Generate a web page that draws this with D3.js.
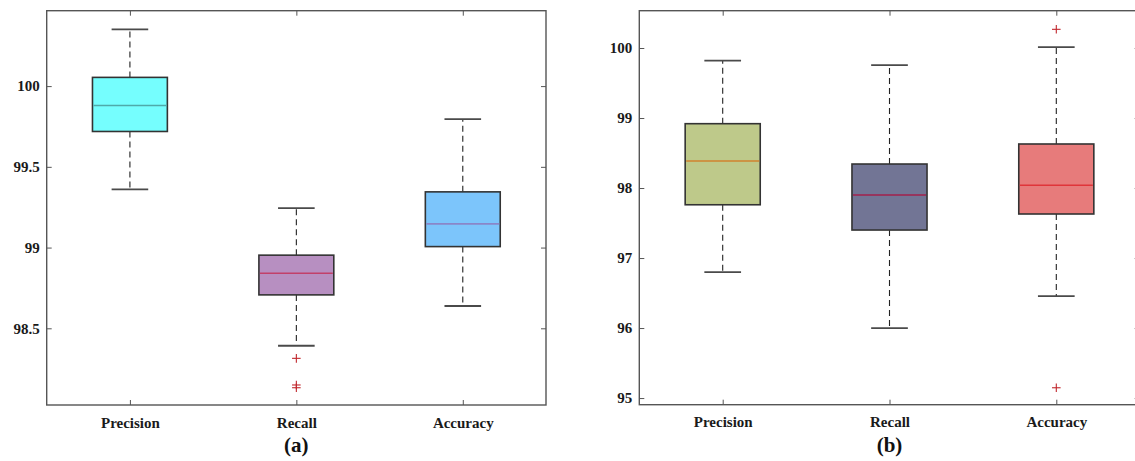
<!DOCTYPE html>
<html>
<head>
<meta charset="utf-8">
<script src="https://cdn.jsdelivr.net/npm/d3@7"></script>
<style>
  html, body { margin: 0; padding: 0; background: #fff; }
  svg { display: block; }
  .tick text { font-family: "Liberation Serif", "Times New Roman", serif; font-weight: bold; fill: #1a1a1a; }
</style>
</head>
<body>
<svg id="chart" width="1135" height="461"></svg>
<script>
// Metric names shared by both panels
const categories = ["Precision", "Recall", "Accuracy"];

// Panel (a): box statistics per metric
const aWhiskerLow  = [99.361, 98.392, 98.638];
const aQ1          = [99.719, 98.707, 99.006];
const aMedian      = [99.880, 98.841, 99.147];
const aQ3          = [100.054, 98.953, 99.345];
const aWhiskerHigh = [100.351, 99.244, 99.795];
const aOutliers    = [[], [98.314, 98.149, 98.132], []];
const aTicks       = [98.5, 99, 99.5, 100];
const aTickLabels  = ["98.5", "99", "99.5", "100"];

// Panel (b): box statistics per metric
const bWhiskerLow  = [96.80, 96.00, 96.457];
const bQ1          = [97.761, 97.40, 97.629];
const bMedian      = [98.386, 97.90, 98.039];
const bQ3          = [98.919, 98.343, 98.629];
const bWhiskerHigh = [99.819, 99.757, 100.014];
const bOutliers    = [[], [], [100.267, 95.147]];
const bTicks       = [95, 96, 97, 98, 99, 100];
const bTickLabels  = ["95", "96", "97", "98", "99", "100"];

// Fill and median colours
const aFill   = ["#75fefe", "#b78fc1", "#7cc5fb"];
const aMedCol = ["#4fa9a9", "#c2406a", "#8a86c8"];
const bFill   = ["#bec98a", "#727595", "#e77b7b"];
const bMedCol = ["#d0822e", "#a3204c", "#e0353a"];

const svg = d3.select("#chart");

function drawPanel(cfg) {
  const x = d3.scaleLinear().domain([0.5, 3.5]).range([cfg.left, cfg.right]);
  const y = d3.scaleLinear().domain(cfg.yDomain).range([cfg.bottom, cfg.top]);
  const g = svg.append("g");
  const boxW = 0.45, capW = 0.22;

  const rows = categories.map((c, i) => ({
    i, pos: i + 1,
    lo: cfg.lo[i], q1: cfg.q1[i], med: cfg.med[i], q3: cfg.q3[i], hi: cfg.hi[i],
    out: cfg.out[i], fill: cfg.fill[i], medCol: cfg.medCol[i]
  }));

  // axes: ticks pointing into the frame on all four sides
  const left = d3.axisLeft(y).tickValues(cfg.ticks)
    .tickFormat((d, i) => cfg.tickLabels[i]).tickSizeInner(-5).tickSizeOuter(0).tickPadding(7);
  const right = d3.axisRight(y).tickValues(cfg.ticks).tickFormat("").tickSizeInner(-5).tickSizeOuter(0);
  const bottom = d3.axisBottom(x).tickValues([1, 2, 3])
    .tickFormat((d) => categories[d - 1]).tickSizeInner(-5).tickSizeOuter(0).tickPadding(12);
  const top = d3.axisTop(x).tickValues([1, 2, 3]).tickFormat("").tickSizeInner(-5).tickSizeOuter(0);

  function styleAxis(sel) {
    sel.select(".domain").remove();
    sel.selectAll(".tick line").attr("stroke", "#555").attr("stroke-width", 1);
  }
  g.append("g").attr("transform", `translate(${cfg.left},0)`).call(left).call(styleAxis)
    .selectAll("text").attr("font-size", 15);
  g.append("g").attr("transform", `translate(${cfg.right},0)`).call(right).call(styleAxis);
  g.append("g").attr("transform", `translate(0,${cfg.bottom})`).call(bottom).call(styleAxis)
    .selectAll("text").attr("font-size", 15);
  g.append("g").attr("transform", `translate(0,${cfg.top})`).call(top).call(styleAxis);

  const box = g.selectAll("g.box").data(rows).join("g").attr("class", "box");

  // dashed whiskers
  box.append("line")
    .attr("x1", d => x(d.pos)).attr("x2", d => x(d.pos))
    .attr("y1", d => y(d.q3)).attr("y2", d => y(d.hi))
    .attr("stroke", "#222").attr("stroke-width", 1.1).attr("stroke-dasharray", "6,4");
  box.append("line")
    .attr("x1", d => x(d.pos)).attr("x2", d => x(d.pos))
    .attr("y1", d => y(d.q1)).attr("y2", d => y(d.lo))
    .attr("stroke", "#222").attr("stroke-width", 1.1).attr("stroke-dasharray", "6,4");

  // whisker caps
  box.append("line")
    .attr("x1", d => x(d.pos - capW / 2)).attr("x2", d => x(d.pos + capW / 2))
    .attr("y1", d => y(d.hi)).attr("y2", d => y(d.hi))
    .attr("stroke", "#4a4a4a").attr("stroke-width", 1.8);
  box.append("line")
    .attr("x1", d => x(d.pos - capW / 2)).attr("x2", d => x(d.pos + capW / 2))
    .attr("y1", d => y(d.lo)).attr("y2", d => y(d.lo))
    .attr("stroke", "#4a4a4a").attr("stroke-width", 1.8);

  // interquartile boxes
  box.append("rect")
    .attr("x", d => x(d.pos - boxW / 2)).attr("width", d => x(d.pos + boxW / 2) - x(d.pos - boxW / 2))
    .attr("y", d => y(d.q3)).attr("height", d => y(d.q1) - y(d.q3))
    .attr("fill", d => d.fill).attr("stroke", "#333").attr("stroke-width", 1.6);

  // medians
  box.append("line")
    .attr("x1", d => x(d.pos - boxW / 2) + 1).attr("x2", d => x(d.pos + boxW / 2) - 1)
    .attr("y1", d => y(d.med)).attr("y2", d => y(d.med))
    .attr("stroke", d => d.medCol).attr("stroke-width", 1.6);

  // outliers drawn as '+'
  const outs = rows.flatMap(d => d.out.map(v => ({ pos: d.pos, v })));
  const plus = g.selectAll("g.out").data(outs).join("g").attr("class", "out")
    .attr("transform", d => `translate(${x(d.pos)},${y(d.v)})`);
  plus.append("line").attr("x1", -4.3).attr("x2", 4.3).attr("y1", 0).attr("y2", 0)
    .attr("stroke", "#c1272d").attr("stroke-width", 1.1);
  plus.append("line").attr("x1", 0).attr("x2", 0).attr("y1", -4.3).attr("y2", 4.3)
    .attr("stroke", "#c1272d").attr("stroke-width", 1.1);

  // frame
  g.append("rect")
    .attr("x", cfg.left).attr("y", cfg.top)
    .attr("width", cfg.right - cfg.left).attr("height", cfg.bottom - cfg.top)
    .attr("fill", "none").attr("stroke", "#555").attr("stroke-width", 1.4);

  // panel caption
  g.append("text")
    .attr("x", x(2)).attr("y", 452)
    .attr("text-anchor", "middle")
    .attr("font-family", "'Liberation Serif', 'Times New Roman', serif")
    .attr("font-weight", "bold").attr("font-size", 21).attr("fill", "#111")
    .text(cfg.caption);
}

drawPanel({
  left: 46.7, right: 546, top: 10.7, bottom: 405,
  yDomain: [98.025, 100.467],
  lo: aWhiskerLow, q1: aQ1, med: aMedian, q3: aQ3, hi: aWhiskerHigh, out: aOutliers,
  ticks: aTicks, tickLabels: aTickLabels, fill: aFill, medCol: aMedCol, caption: "(a)"
});

drawPanel({
  left: 639.3, right: 1139.7, top: 10.7, bottom: 404.7,
  yDomain: [94.905, 100.533],
  lo: bWhiskerLow, q1: bQ1, med: bMedian, q3: bQ3, hi: bWhiskerHigh, out: bOutliers,
  ticks: bTicks, tickLabels: bTickLabels, fill: bFill, medCol: bMedCol, caption: "(b)"
});
</script>
</body>
</html>
